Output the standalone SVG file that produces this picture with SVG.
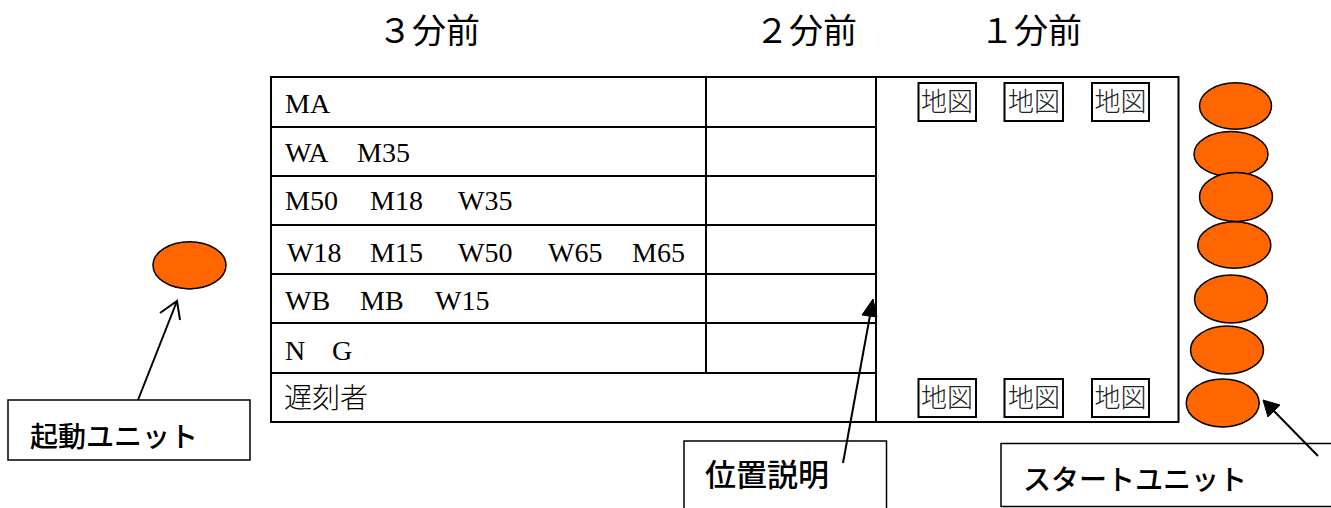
<svg xmlns="http://www.w3.org/2000/svg" width="1331" height="508" viewBox="0 0 1331 508">
<style>
.ln{stroke:#000;stroke-width:2;fill:none}
.lat{font-family:"Liberation Serif",serif;font-size:28px;fill:#000}
.jp{font-family:"Noto Sans CJK JP",sans-serif;fill:#000}
.lbl{font-family:"Noto Sans CJK JP",sans-serif;fill:#000;font-weight:500}
.map{font-family:"Noto Sans CJK JP",sans-serif;font-size:26px;font-weight:300;fill:#222;text-anchor:middle}
.ov{fill:#FF6600;stroke:#000;stroke-width:1.5}
.box{fill:#fff;stroke:#000;stroke-width:1.5}
</style>
<rect width="1331" height="508" fill="#fff"/>
<g id="headings">
<text class="jp" x="378" y="43" font-size="34">３分前</text>
<text class="jp" x="755" y="43" font-size="34">２分前</text>
<text class="jp" x="980" y="43" font-size="34">１分前</text>
</g>
<g id="table">
<rect class="ln" x="271" y="77" width="605" height="345"/>
<rect class="ln" x="876" y="77" width="302.5" height="345"/>
<path class="ln" d="M271 127H876M271 176H876M271 225H876M271 274H876M271 323H876M271 373H876M706 77V373"/>
<text class="lat" x="285" y="113">MA</text>
<text class="lat" y="162"><tspan x="285">WA</tspan><tspan x="357">M35</tspan></text>
<text class="lat" y="210"><tspan x="285">M50</tspan><tspan x="370">M18</tspan><tspan x="458">W35</tspan></text>
<text class="lat" y="262"><tspan x="287">W18</tspan><tspan x="370">M15</tspan><tspan x="458">W50</tspan><tspan x="548">W65</tspan><tspan x="632">M65</tspan></text>
<text class="lat" y="310"><tspan x="285">WB</tspan><tspan x="360">MB</tspan><tspan x="435">W15</tspan></text>
<text class="lat" y="360"><tspan x="285">N</tspan><tspan x="332">G</tspan></text>
<text class="jp" x="284" y="408" font-size="28" font-weight="300">遅刻者</text>
</g>
<g id="maps">
<rect class="ln" x="918.5" y="83" width="57.5" height="38"/>
<rect class="ln" x="1004.5" y="83" width="58.5" height="38"/>
<rect class="ln" x="1092" y="83" width="57" height="38"/>
<rect class="ln" x="918.5" y="379" width="57.5" height="38"/>
<rect class="ln" x="1004.5" y="379" width="58.5" height="38"/>
<rect class="ln" x="1092" y="379" width="57" height="38"/>
<text class="map" x="947" y="111">地図</text>
<text class="map" x="1034" y="111">地図</text>
<text class="map" x="1120.5" y="111">地図</text>
<text class="map" x="947" y="407">地図</text>
<text class="map" x="1034" y="407">地図</text>
<text class="map" x="1120.5" y="407">地図</text>
</g>
<g id="start-units">
<ellipse class="ov" cx="1235.5" cy="106" rx="36" ry="23.3"/>
<ellipse class="ov" cx="1231" cy="154" rx="37" ry="22.5"/>
<ellipse class="ov" cx="1236" cy="197" rx="36.5" ry="24.5"/>
<ellipse class="ov" cx="1234.3" cy="245" rx="36.5" ry="23.3"/>
<ellipse class="ov" cx="1231" cy="299" rx="36.5" ry="24"/>
<ellipse class="ov" cx="1227" cy="350" rx="36.5" ry="24"/>
<ellipse class="ov" cx="1222.7" cy="403" rx="36.5" ry="24"/>
</g>
<g id="launch-unit">
<ellipse class="ov" cx="189.5" cy="265.3" rx="36.5" ry="23.6"/>
</g>
<g id="label-launch">
<rect class="box" x="8" y="400" width="242" height="60"/>
<text class="lbl" x="30" y="447" font-size="28">起動ユニット</text>
</g>
<g id="label-position">
<rect class="box" x="684" y="441" width="202.5" height="80"/>
<text class="lbl" x="705" y="486" font-size="31">位置説明</text>
</g>
<g id="label-start">
<rect class="box" x="1001" y="443.5" width="340" height="63"/>
<text class="lbl" x="1023" y="490" font-size="28">スタートユニット</text>
</g>
<g id="connectors">
<path class="ln" stroke-width="2.5" d="M138 400L177 301"/>
<path class="ln" stroke-width="2.5" d="M160 313L177 301L180 320"/>
<path class="ln" d="M843 463L871 310"/>
<path d="M873 299L862 315L877 317Z" fill="#000" stroke="#000" stroke-width="1"/>
<path class="ln" d="M1318 456L1271 408"/>
<path d="M1263 400L1268 417L1280 405Z" fill="#000" stroke="#000" stroke-width="1"/>
</g>
</svg>
